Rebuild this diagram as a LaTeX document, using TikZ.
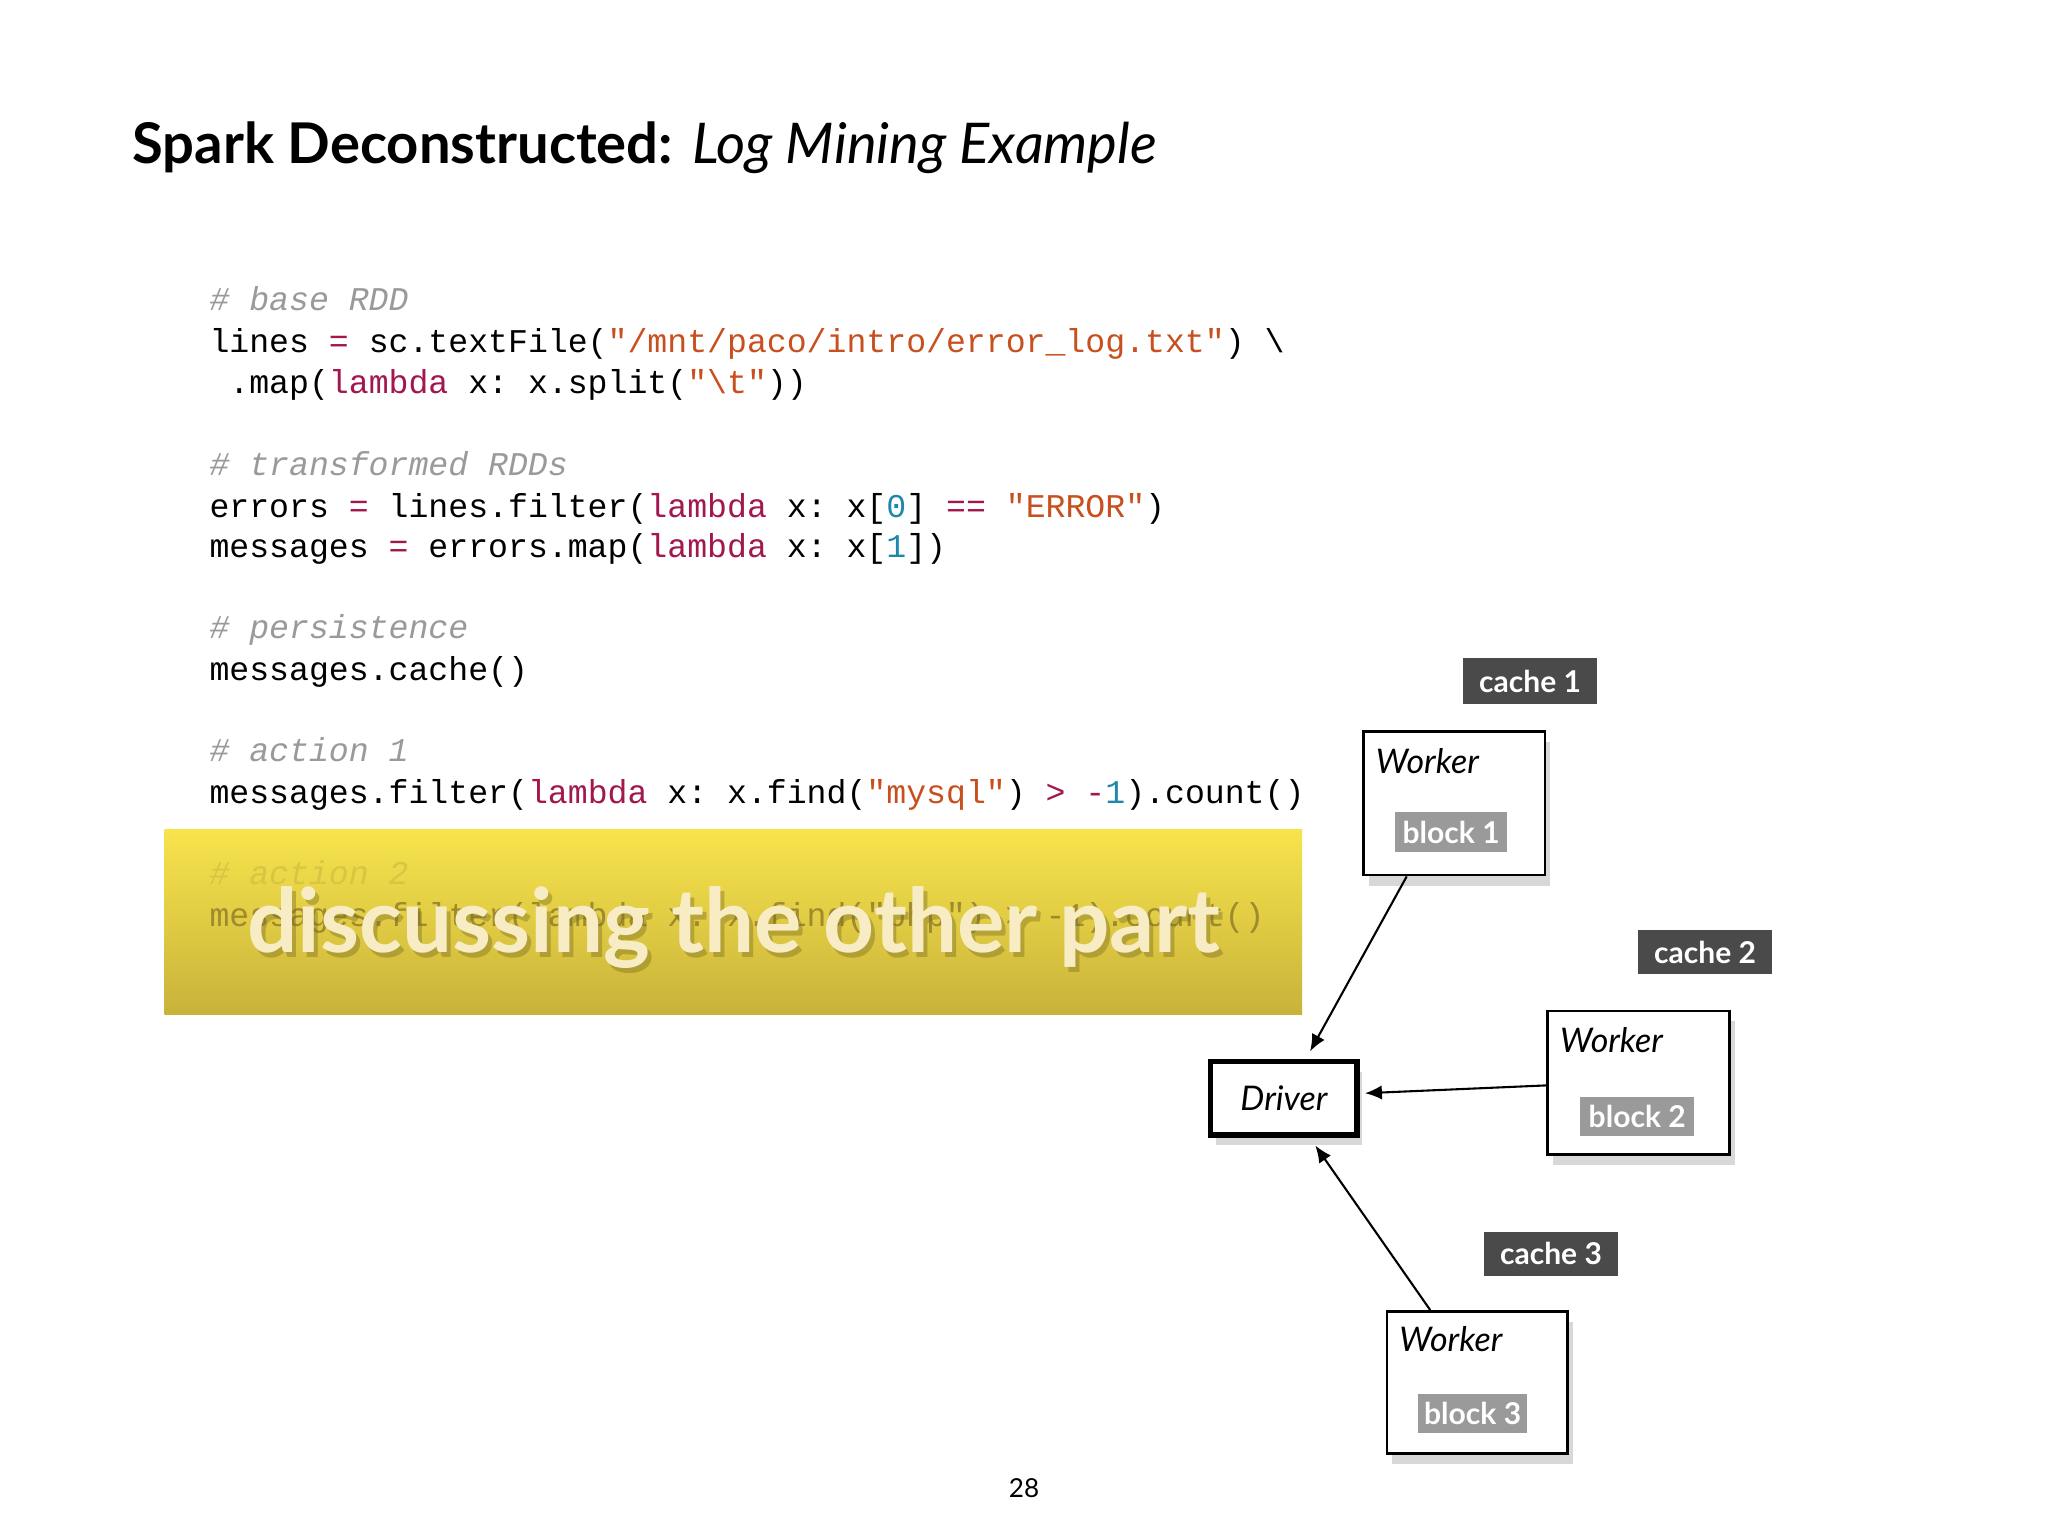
\documentclass[tikz,border=0pt]{standalone}
\usepackage{fontspec}
\setmainfont{Lato}
\setsansfont{Lato}
\setmonofont{Liberation Mono}
\usetikzlibrary{shadows,arrows.meta}
\definecolor{cmt}{HTML}{9A9A9A}
\definecolor{str}{HTML}{C8501E}
\definecolor{kw}{HTML}{A3174F}
\definecolor{num}{HTML}{1E88A8}
\definecolor{op}{HTML}{A3174F}
\definecolor{darkl}{HTML}{4A4A4A}
\definecolor{blockl}{HTML}{9A9A9A}
\definecolor{ytop}{HTML}{F7E44C}
\definecolor{ybot}{HTML}{C9B23A}
\newcommand{\cStr}[1]{\textcolor{str}{#1}}
\newcommand{\cKw}[1]{\textcolor{kw}{#1}}
\newcommand{\cNum}[1]{\textcolor{num}{#1}}
\newcommand{\cOp}[1]{\textcolor{op}{#1}}
\tikzset{
 code/.style={anchor=base west, inner sep=0pt, font=\fontsize{12.7}{15}\selectfont\ttfamily},
 cmtline/.style={code, text=cmt, font=\fontsize{12.7}{15}\selectfont\ttfamily\itshape},
 worker/.style={draw=black, line width=1pt, fill=white, drop shadow={opacity=0.3, shadow xshift=2pt, shadow yshift=-4pt}},
 wlabel/.style={anchor=base west, inner sep=0pt, font=\fontsize{13}{15}\selectfont\itshape},
 cachel/.style={fill=darkl, text=white, inner sep=0pt, font=\fontsize{11.5}{13}\selectfont\bfseries\sffamily},
 blockl/.style={fill=blockl, text=white, inner sep=0pt, font=\fontsize{11.5}{13}\selectfont\bfseries\sffamily},
 arr/.style={-{Latex[length=6.5pt,width=5.5pt]}, line width=0.8pt}
}
\begin{document}
\begin{tikzpicture}[x=0.5pt, y=-0.5pt]
\useasboundingbox (0,0) rectangle (1568,1176);
\fill[white] (0,0) rectangle (1568,1176);
% title
\node[anchor=base west, inner sep=0pt] (title) at (101,125) {\fontsize{21.5}{24}\selectfont\textbf{Spark Deconstructed:} \itshape Log Mining Example};
% code
\node[cmtline] (c1) at (160,238) {\# base RDD};
\node[code] (l1) at (160,270) {lines \cOp{=} sc.textFile(\cStr{"/mnt/paco/intro/error\_log.txt"}) \textbackslash};
\node[code] (l2) at (160,301) {\ .map(\cKw{lambda} x: x.split(\cStr{"\textbackslash t"}))};
\node[cmtline] (c2) at (160,364) {\# transformed RDDs};
\node[code] (l3) at (160,396) {errors \cOp{=} lines.filter(\cKw{lambda} x: x[\cNum{0}] \cOp{==} \cStr{"ERROR"})};
\node[code] (l4) at (160,427) {messages \cOp{=} errors.map(\cKw{lambda} x: x[\cNum{1}])};
\node[cmtline] (c3) at (160,489) {\# persistence};
\node[code] (l5) at (160,521) {messages.cache()};
\node[cmtline] (c4) at (160,583) {\# action 1};
\node[code] (l6) at (160,615) {messages.filter(\cKw{lambda} x: x.find(\cStr{"mysql"}) \cOp{>} \cOp{-}\cNum{1}).count()};
% banner
\shade[top color=ytop, bottom color=ybot] (126,635) rectangle (997,777);
\node[cmtline, text=black!12!ytop!90!ybot] (c5) at (160,677) {\# action 2};
\node[code, text=black!22!ybot] (l7) at (160,709) {messages.filter(lambda x: x.find("php") > -1).count()};
\node[inner sep=0pt, text=black!40!ybot, opacity=0.4] at (565,714) {\fontsize{34}{36}\selectfont\bfseries discussing the other part};
\node[inner sep=0pt, text=ytop!25!white!90!brown] (ban) at (562,710) {\fontsize{34}{36}\selectfont\bfseries discussing the other part};
% workers
\node[worker, minimum width=69.5pt, minimum height=55pt, anchor=north west] (w1) at (1043,559) {};
\node[wlabel] at (1053,592) {Worker};
\node[blockl, minimum width=43pt, minimum height=15pt] (b1) at (1111,637) {block 1};
\node[cachel, minimum width=51.5pt, minimum height=17.5pt] (k1) at (1171.5,521.5) {cache 1};

\node[worker, minimum width=69.5pt, minimum height=55pt, anchor=north west] (w2) at (1184,773) {};
\node[wlabel] at (1194,806) {Worker};
\node[blockl, minimum width=43.5pt, minimum height=15pt] (b2) at (1253.5,855) {block 2};
\node[cachel, minimum width=51.5pt, minimum height=17pt] (k2) at (1305.5,729) {cache 2};

\node[worker, minimum width=69pt, minimum height=54.5pt, anchor=north west] (w3) at (1061,1003) {};
\node[wlabel] at (1071,1035) {Worker};
\node[blockl, minimum width=41.5pt, minimum height=15pt] (b3) at (1127.5,1082) {block 3};
\node[cachel, minimum width=51.5pt, minimum height=17pt] (k3) at (1187.5,960) {cache 3};

\node[draw=black, line width=2pt, fill=white, minimum width=56pt, minimum height=28pt, drop shadow={opacity=0.3, shadow xshift=2pt, shadow yshift=-4pt}, font=\fontsize{13}{15}\selectfont\itshape] (drv) at (983,841) {Driver};
% connectors
\draw[arr] ([xshift=17pt]w1.south west) -- ([xshift=10pt,yshift=3pt]drv.north);
\draw[arr] ([yshift=-1pt]w2.west) -- ([xshift=2pt,yshift=2pt]drv.east);
\draw[arr] ([xshift=17pt]w3.north west) -- ([xshift=12pt,yshift=-3pt]drv.south);
% page number
\node[inner sep=0pt, font=\fontsize{10}{12}\selectfont] (pg) at (784,1139) {28};
\end{tikzpicture}
\end{document}
